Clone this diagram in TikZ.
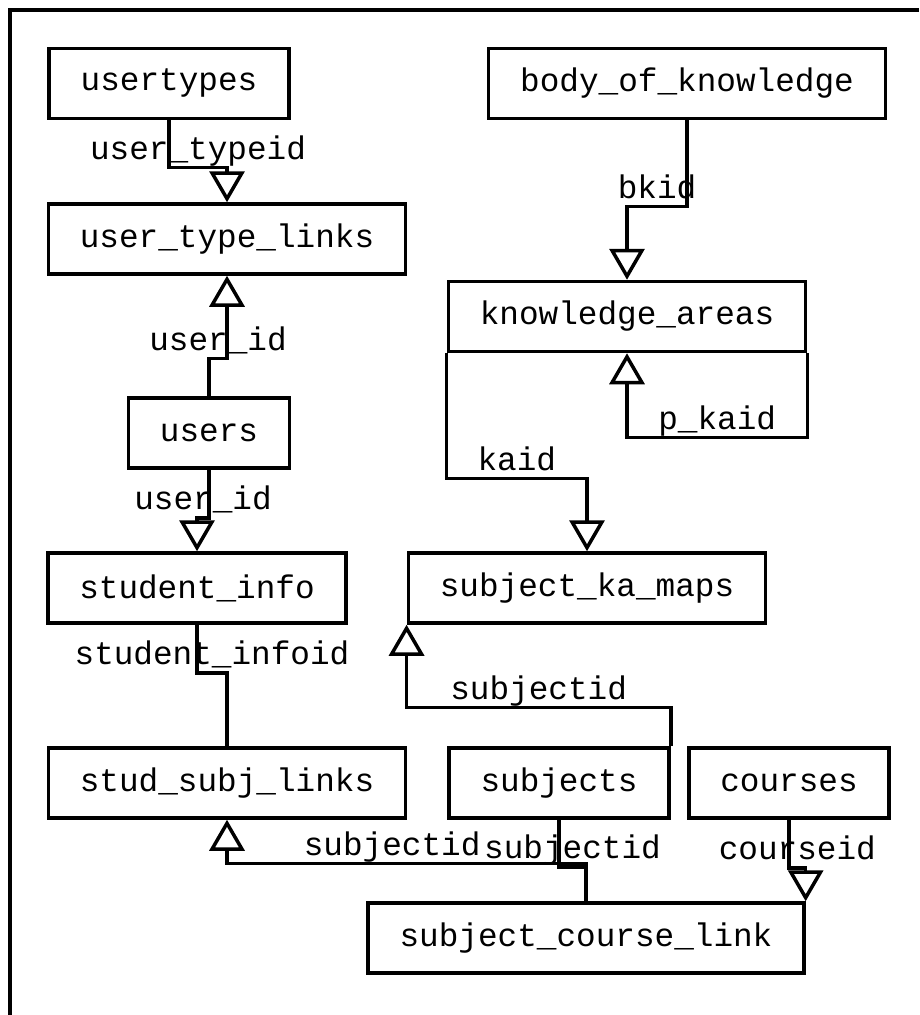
\documentclass[tikz,border=0pt]{standalone}
\usepackage{fontspec}
\setmonofont{Liberation Mono}
\usetikzlibrary{arrows.meta}

\begin{document}
\begin{tikzpicture}[x=1pt,y=-1pt,
  table/.style={draw,line width=3.5pt,minimum height=70pt,inner xsep=31.5pt,
    font=\ttfamily\fontsize{32.7}{39}\selectfont},
  fk/.style={line width=3.5pt,-{Triangle[open,length=31pt,width=35pt]}},
  link/.style={line width=3.5pt},
  key/.style={anchor=base,yshift=8pt,inner sep=0pt,
    font=\ttfamily\fontsize{32.7}{39}\selectfont}]
\useasboundingbox (0,0) rectangle (919,1015);
\fill[white] (0,0) rectangle (919,1015);
\draw[line width=3.5pt] (10,1015) -- (10,10) -- (919,10);

% tables
\node[table] (usertypes) at (169,83.5) {usertypes};
\node[table] (utl) at (227,239) {user\_type\_links};
\node[table] (users) at (209,433) {users};
\node[table] (sinfo) at (197,588) {student\_info};
\node[table] (ssl) at (227,783) {stud\_subj\_links};
\node[table] (bok) at (687,83.5) {body\_of\_knowledge};
\node[table] (ka) at (627,316.5) {knowledge\_areas};
\node[table] (skm) at (587,588) {subject\_ka\_maps};
\node[table] (subjects) at (559,783) {subjects};
\node[table] (courses) at (789,783) {courses};
\node[table] (scl) at (586,938) {subject\_course\_link};

% keys
\draw[fk] (usertypes.south) -- ++(0,47) -| node[key,pos=0.25] {user\_typeid} (utl.north);
\draw[fk] (users.north) -- ++(0,-38) -| node[key,pos=0.25] {user\_id} (utl.south);
\draw[fk] (users.south) -- ++(0,48) -| node[key,pos=0.25] {user\_id} (sinfo.north);
\draw[link] (sinfo.south) -- ++(0,48) -| node[key,pos=0.25] {student\_infoid} (ssl.north);
\draw[fk] (scl.north) -- ++(0,-38) -| node[key,pos=0.27] {subjectid} (ssl.south);
\draw[link] (subjects.south) -- ++(0,47) -| node[key,pos=0.25] {subjectid} (scl.north);
\draw[fk] (courses.south) -- ++(0,48) -| node[key,pos=0.25] {courseid} (scl.north east);
\draw[fk] (subjects.north east) -- ++(0,-39) -| node[key,pos=0.25] {subjectid} (skm.south west);
\draw[fk] (bok.south) -- ++(0,86) -| node[key,pos=0.25] {bkid} (ka.north);
\draw[fk] (ka.south east) -- ++(0,84) -| node[key,pos=0.25] {p\_kaid} (ka.south);
\draw[fk] (ka.south west) -- ++(0,125) -| node[key,pos=0.25] {kaid} (skm.north);
\end{tikzpicture}
\end{document}
